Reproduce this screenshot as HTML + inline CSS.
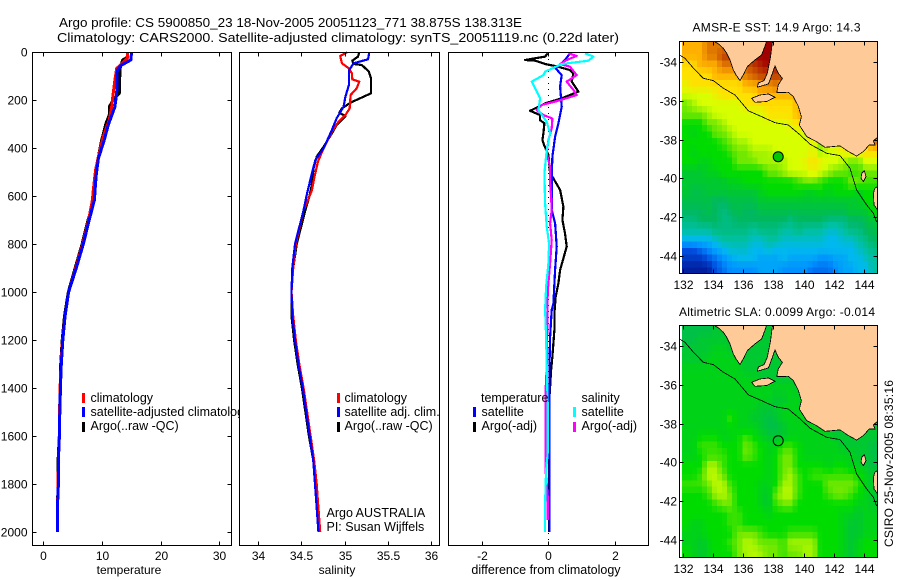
<!DOCTYPE html>
<html lang="en">
<head>
<meta charset="utf-8">
<title>Argo profile CS 5900850_23</title>
<style>
html,body{margin:0;padding:0;background:#fff;}
svg{display:block;}
text{font-family:"Liberation Sans",sans-serif;font-size:12px;fill:#000;}
text.big{font-size:13px;}
text.mid{font-size:12.5px;}
</style>
</head>
<body>
<svg id="figure" xmlns="http://www.w3.org/2000/svg" width="900" height="580" viewBox="0 0 900 580">
<defs>
<clipPath id="clip-sst"><rect x="680" y="42" width="197" height="231"/></clipPath>
<clipPath id="clip-sla"><rect x="680" y="326" width="197" height="231"/></clipPath>
</defs>
<rect x="0" y="0" width="900" height="580" fill="#fff"/>
<text class="big" x="59" y="27" textLength="463" lengthAdjust="spacingAndGlyphs">Argo profile: CS 5900850_23 18-Nov-2005 20051123_771 38.875S 138.313E</text>
<text class="big" x="57" y="42" textLength="562" lengthAdjust="spacingAndGlyphs">Climatology: CARS2000. Satellite-adjusted climatology: synTS_20051119.nc (0.22d later)</text>

<!-- temperature panel -->
<g id="panel-temp">
<rect x="32.5" y="52.5" width="199" height="493" fill="#fff" stroke="none"/>
<g id="temp-marks"></g>
<rect x="32.5" y="52.5" width="199" height="493" fill="none" stroke="#000" stroke-width="1" shape-rendering="crispEdges"/>
<g id="temp-ticks"></g>
<text x="129" y="574" text-anchor="middle">temperature</text>
<rect x="82" y="393" width="3" height="10" fill="#f00"/>
<rect x="82" y="407" width="3" height="10" fill="#00f"/>
<rect x="82" y="422" width="3" height="10" fill="#000"/>
<text class="mid" x="90.5" y="402">climatology</text>
<text class="mid" x="90.5" y="416">satellite-adjusted climatology</text>
<text class="mid" x="90.5" y="430">Argo(..raw -QC)</text>
</g>

<!-- salinity panel -->
<g id="panel-sal">
<rect x="239.5" y="52.5" width="200" height="493" fill="#fff" stroke="none"/>
<g id="sal-marks"></g>
<rect x="239.5" y="52.5" width="200" height="493" fill="none" stroke="#000" stroke-width="1" shape-rendering="crispEdges"/>
<g id="sal-ticks"></g>
<text x="337" y="574" text-anchor="middle">salinity</text>
<rect x="337" y="393" width="3" height="10" fill="#f00"/>
<rect x="337" y="407" width="3" height="10" fill="#00f"/>
<rect x="337" y="422" width="3" height="10" fill="#000"/>
<text class="mid" x="344.5" y="402">climatology</text>
<text class="mid" x="344.5" y="416">satellite adj. clim.</text>
<text class="mid" x="344.5" y="430">Argo(..raw -QC)</text>
<text class="mid" x="326.5" y="517">Argo AUSTRALIA</text>
<text class="mid" x="326.5" y="531">PI: Susan Wijffels</text>
</g>

<!-- difference panel -->
<g id="panel-diff">
<rect x="448.5" y="52.5" width="200" height="493" fill="#fff" stroke="none"/>
<g id="diff-marks"></g>
<rect x="448.5" y="52.5" width="200" height="493" fill="none" stroke="#000" stroke-width="1" shape-rendering="crispEdges"/>
<g id="diff-ticks"></g>
<text class="mid" x="546" y="574" text-anchor="middle">difference from climatology</text>
<text class="mid" x="481" y="402">temperature</text>
<text class="mid" x="581.5" y="402">salinity</text>
<rect x="473" y="407" width="3" height="10" fill="#00f"/>
<rect x="473" y="422" width="3" height="10" fill="#000"/>
<rect x="573" y="407" width="3" height="10" fill="#0ff"/>
<rect x="573" y="422" width="3" height="10" fill="#f0f"/>
<text class="mid" x="481.5" y="416">satellite</text>
<text class="mid" x="481.5" y="430">Argo(-adj)</text>
<text class="mid" x="581.5" y="416">satellite</text>
<text class="mid" x="581.5" y="430">Argo(-adj)</text>
</g>

<!-- SST map -->
<g id="map-sst">
<text x="692.5" y="31.5" textLength="168">AMSR-E SST: 14.9 Argo: 14.3</text>
</g>
<!-- SLA map -->
<g id="map-sla">
<text x="679" y="316" textLength="196">Altimetric SLA: 0.0099 Argo: -0.014</text>
</g>
<text transform="translate(893,547) rotate(-90)" textLength="167">CSIRO 25-Nov-2005 08:35:16</text>
</svg>

<script>
// ---------- temperature profiles ----------
const tempClimDepth = [0,25,67,115,171,227,282,352,435,491,574,616,700,800,900,1000,1100,1200,1300,1400,1500,1600,1700,1800,1900,2000];
const tempClim = [14.3,14.3,12.5,12.2,11.9,11.64,11.24,10.2,9.37,8.9,8.5,8.35,7.7,6.7,5.5,4.3,3.7,3.25,3.0,2.85,2.75,2.7,2.55,2.5,2.4,2.38];
const tempSatDepth = [0,32,53,74,171,227,254,303,373,442,519,616,700,800,900,1000,1100,1200,1300,1400,1500,1600,1700,1800,1900,2000];
const tempSat = [15.05,14.9,13.35,12.6,12.5,12.2,11.8,11.07,10.3,9.37,8.97,8.7,7.8,6.8,5.6,4.3,3.7,3.3,3.05,2.9,2.8,2.73,2.55,2.55,2.38,2.38];
const tempArgoDepth = [0,21,32,67,171,199,227,261,296,366,421,491,574,616,700,800,900,1000,1100,1200,1300,1400,1500,1600,1700,1800,1900,2000];
const tempArgo = [14.31,14.31,13.5,13.06,12.95,11.9,11.24,11.24,10.68,9.94,9.48,9.09,8.8,8.7,7.6,6.6,5.4,4.25,3.6,3.2,2.95,2.95,2.7,2.7,2.5,2.5,2.38,2.38];

// ---------- salinity profiles ----------
const salClimDepth = [0,15,46,67,88,113,122,150,178,234,262,290,331,408,456,519,575,616,658,800,900,1000,1100,1200,1300,1400,1500,1600,1700,1800,1900,2000];
const salClim = [35.03,34.95,34.97,35.05,35.085,35.09,35.17,35.14,35.07,35.06,35.01,34.93,34.855,34.75,34.695,34.655,34.625,34.58,34.53,34.44,34.41,34.39,34.41,34.44,34.48,34.53,34.57,34.61,34.65,34.68,34.7,34.72];
const salSatDepth = [0,29,46,76,136,185,227,275,324,401,449,505,588,658,800,900,1000,1100,1200,1300,1400,1500,1600,1700,1800,1900,2000];
const salSat = [35.285,35.27,35.105,35.05,35.05,35.01,34.99,34.91,34.855,34.76,34.665,34.625,34.57,34.53,34.43,34.4,34.39,34.4,34.43,34.47,34.52,34.56,34.6,34.64,34.66,34.68,34.7];
const salArgoDepth = [0,18,35,49,53,81,109,171,185,210,234,252,266,303,338,394,435,484,560,602,658,800,900,1000,1100,1200,1300,1400,1500,1600,1700,1800,1900,2000];
const salArgo = [35.17,35.155,35.09,35.105,35.2,35.28,35.305,35.305,35.22,35.07,34.97,34.94,35.01,34.91,34.855,34.76,34.68,34.645,34.62,34.595,34.55,34.45,34.41,34.39,34.39,34.42,34.46,34.51,34.55,34.59,34.64,34.67,34.69,34.7];

// ---------- differences from climatology ----------
const diffTempArgoDepth = [4,18,32,35,49,57,74,88,122,164,192,213,244,262,283,296,338,366,387,428,505,526,574,644,699,755,810,859,908,963,1019,1088,1158,1269,1325,1464,2000];
const diffTempArgo = [-0.02,-0.1,-0.7,-0.4,-0.1,0.2,0.65,0.75,0.7,0.9,0.4,-0.1,-0.55,-0.25,-0.25,-0.12,-0.15,-0.18,-0.13,0,0.05,0.15,0.35,0.45,0.42,0.5,0.55,0.45,0.35,0.3,0.22,0.18,0.18,0.12,0.08,0.02,0.02];
const diffTempSatDepth = [4,32,46,67,95,143,227,296,352,435,519,658,713,810,908,1047,1075,1186,1325,2000];
const diffTempSat = [0.65,0.5,0.4,0.22,0.4,0.35,0.4,0.3,0.2,0.12,0.1,0.1,0.2,0.25,0.2,0.15,0.1,0.05,0.03,0.03];
const diffSalArgoDepth = [4,15,32,49,60,95,122,157,178,202,220,241,262,276,317,366,421,477,547,602,658,713,783,880,963,1005,1320,1400,1750,1850,1950];
const diffSalArgo = [0.6,0.85,0.55,0.35,0.65,0.85,0.55,0.75,0.85,0.3,-0.2,-0.35,-0.15,0.12,0.1,0,-0.05,0.05,0.05,0.08,0.1,0.05,0.1,0.05,0,-0.02,-0.05,-0.08,-0.08,-0.02,-0.02];
const diffSalSatDepth = [4,18,35,49,81,95,122,192,241,290,338,408,505,630,727,797,880,977,1075,1186,1310,1464,1672,1742,1881,2000];
const diffSalSat = [1.1,1.35,1.2,0.4,-0.1,-0.15,-0.5,-0.25,-0.3,-0.05,0.05,-0.05,-0.12,-0.1,-0.05,0.02,0,-0.07,-0.1,-0.07,-0.05,-0.02,-0.02,-0.07,-0.1,-0.1];

// ---------- axis tick labels ----------
const depthTicks = [0,200,400,600,800,1000,1200,1400,1600,1800,2000];
const tempTicks = [0,10,20,30];
const salTicks = [34,34.5,35,35.5,36];
const salTickLabels = ["34","34.5","35","35.5","36"];
const diffTicks = [-2,0,2];
const lonTicks = [132,134,136,138,140,142,144];
const latTicks = [-34,-36,-38,-40,-42,-44];

// ---------- map fields: rows run north to south, columns west to east, in colour-scale levels ----------
const sstField = [
[11,11,11,12,12,12,12,12,13,14,14,14,14,14,13,11,11,11,11,11,11,11,11,11,11,11],
[11,11,11,12,12,13,13,12,13,14,14,14,14,14,13,11,11,11,11,11,11,11,11,11,11,11],
[10,10,11,11,11,12,12,12,12.5,13,13.5,14,13.5,13.5,13.5,12,11,11,11,11,11,11,11,11,11,11],
[10,10,10,10,11,11,11,11,12,12.5,13,13,13,13,13,11.5,11,11,11,11,11,11,11,11,11,11],
[9.5,10,10,10,10,10,10,10,11,11,11.5,11.5,12,11.5,11,11,11,11,11,11,11,11,11,11,11,11],
[9,9,9,9,9.5,10,10,10,10,10,11,11,11,11,11,11,11,11,11,11,11,11,11,11,11,11],
[8,8.5,9,9,9,9,9,9,10,10,10,10,10,10,10,11,11,12,11,11,11,11,11,11,11,11],
[8,8,8,8.5,9,9,9,9,9,9,9,10,10,10,10,11,11,11,11,11,11,11,11,11,11,11],
[7,7,7,8,8,8.5,9,9,9,9,9,9,9,9,9.5,10,10,10,10,11,11,11,11,11,11,11],
[7,6.5,7,7,8,8,8.5,9,9,9,9,9,9,9,9,9,9,10,10,10,11,11,11,11,12,12],
[7,7,7,7,7,7.5,8,8.5,8.5,9,9,9,9,9,9,9,9,9.5,8,9,9.5,10,10,10,10,12],
[7,6.5,7,7,7,7,7.5,8,8,8.5,8.5,8.5,9,9,9,9,9,9.5,8.5,9,9,9.5,9.5,9.5,10,10],
[7,7,6.5,6.5,7,7,7,8,8,8,8.5,8.5,8.5,8.5,9,9,9.5,10,9.5,9,9,8.5,8,8,9,9],
[6,6,6,6.5,6.5,7,7,7,7,7,7,8,8,8.5,9,9,9,9.5,9,8.5,8,8,7.5,7.5,8,8],
[6,6,6,6,6,6,6.5,6.5,7,7,7,7,7,7,7,7.5,8,8,7.5,7,7,7,8,8,7.5,7.5],
[6,5.5,5.5,6,6,6,6,6,6,6,6.5,7,7,7,7,7,6.5,6.5,7,6.5,7,7,7,6.5,7,7],
[5.5,5.5,5.5,5.5,5,5,5.5,5.5,5.5,5.5,6,6,6,6,6,6,6,6,6,6,6,6,6,6,7,7],
[5,5,5,5.5,5,4.5,5,5.5,5,5,5.5,5.5,5.5,5.5,5.5,5.5,5.5,5.5,5.5,5.5,5.5,5.5,6,6,6,7],
[4.5,4.5,5,5,5,4.5,4.5,5,5,5,5,5,5,5,4.5,5,5,5,5,4.5,4.5,4.5,5,5,5.5,6],
[4,4,4,4,4.5,4.5,4.5,4.5,4.5,4,4.5,4.5,4.5,4,4,4.5,4,4,4,3.5,3.5,4,4.5,4.5,5,5.5],
[3,3,3,3,3.5,4,4,4,4,3.5,3.5,4,4,3.5,3.5,3.5,3.5,3.5,3.5,3,3,3.5,3.5,4,4.5,5],
[1,1,1.5,2,2.5,3,3.5,3.5,3.5,3,3,3.5,3,3,3,3,3,3,3,3,3,3,3,3.5,4,4.5],
[0.5,0.5,0.5,1,1.5,2,2.5,3,3,3,2.5,2.5,2.5,3,2.5,2.5,2.5,2.5,2,2,2.5,2.5,3,3,3.5,4],
[0,0,0,0,1,1.5,2,2,2,2,2.5,2.5,2.5,2,2,2,2,1.5,1.5,1.5,2,2.5,2.5,3,3,4]
];
const slaField = [
[5.5,5.5,5.5,5.5,6,6,6,6,6,6,6,6,6,6,6,6,6,6,6,6,6,6,6,6,6,6],
[5.5,5.5,6,6,6,6,6,6,6,6,6,6,6,6,6,6,6,6,6,6,6,6,6,6,6,6],
[6,6,6,6,6.5,6.5,6,6,6,6,6,6,6,6,6,6,6,6,6,6,6,6,6,6,6,6],
[6,6,6,6.5,6.5,6.5,6.5,6.5,6,6,6,6,6,6,6,6,6,6,6,6,6,6,6,6,6,6],
[6.5,6.5,6.5,6.5,6.5,6.5,6.5,6.5,6,6,6,6,6,6,6,6,6,6,6,6,6,6,6,6,6,6],
[6.5,6.5,6.5,6.5,6.5,6.5,6.5,6.5,6.5,6.5,6,6,6,6,6,6,6,6,6,6,6,6,6,6,6,6],
[6.5,6.5,6.5,6.5,6.5,6.5,6.5,6.5,6.5,6.5,6.5,6.5,6.5,6.5,6.5,6,6,6,6,6,6,6,6,6,6,6],
[6.5,6.5,6.5,6.5,6.5,6.5,6.5,6.5,6.5,6.5,6.5,6.5,6,6,6.5,6.5,6,6,6,6,6,6,6,6,6,6],
[6.5,6.5,6.5,6.5,6.5,6.5,6.5,6.5,6.5,6.5,6,6,6,6.5,6.5,6.5,6.5,6,6,6,6,6,6,6,6,6],
[6.5,6.5,6.5,6.5,6.5,6.5,7.5,6.5,6.5,6,6,5.5,6,6.5,6.5,6.5,6.5,6.5,6,6,6,6,6,6,6,6],
[6.5,6.5,6.5,6.5,6.5,6.5,7,6.5,6.5,6.5,6,5.5,5.5,6,6.5,6.5,6.5,6.5,6.5,6,6,6,6,6,6,6],
[6.5,6.5,7,7,7,6.5,6.5,7,7.5,7,6.5,6,6,6,6.5,6.5,6.5,6.5,6.5,6.5,6,6,6,6,6,6],
[6.5,6.5,7.5,7.5,7.5,7,7,7,8,7.5,7,6.5,6.5,7.5,7.5,7,6.5,6.5,6.5,6.5,6.5,6,6,6,6,5.5],
[6.5,6.5,7,7.5,7.5,7.5,7,7,8,7.5,7,6.5,7,8,8,7,6.5,6.5,6.5,6.5,6.5,6.5,6.5,6,6,5.5],
[7,7,7,8.5,8.5,7.5,7,7,7,7,7,6.5,7,8,8,7,7,7,7,6.5,7,7,6.5,6.5,6,5.5],
[7,7,7.5,8.7,8.7,8,7,7,7,7,7,6.5,7,8,8.5,7.5,7,7.5,7.5,7.5,7.5,7.5,7.5,7,6.5,6],
[7.5,7.5,7.5,8,8.7,8.7,7.5,7,7,7,6.5,6.5,7,8.5,8.5,7.5,7,7,7,8,8,8,8,7.5,6.5,6],
[7,7,7,7.5,8.5,8.7,8,7,7,7,6.5,6,8,8.7,8.7,7.5,7,7,7,7.5,8,8,7.5,7,6.5,6],
[7,7,7,7,7.5,8,8,7,7,7,6.5,6,7.5,8,8,7,7,7,7,7,7,7,7,6.5,6.5,6],
[7,7,7,7,7,7,7.5,7.5,7,7,7,6.5,7,7,7,7,7,7,7,7,7,6.5,6.5,6,6.5,6.5],
[7,6.5,6.5,7,7,7,7.5,7.5,7,7,7,7,7,7,7,7,7,7,7,7,7,6.5,6,6,6.5,6.5],
[6.5,6.5,6.5,7,7,7,7,8,8,8,7.5,7,7,7,7.5,7.5,7.5,7.5,7,7,7,6.5,6,6,6.5,6.5],
[6.5,6.5,6,6.5,7,7,7.5,8,8.7,8.5,8,8,8,7.5,8.5,8.5,8.5,8.5,7,7,7,6.5,6,6.5,7,7],
[7,6.5,6,6.5,7,7,7,8,8.5,8.7,8.5,8,8,7.5,8,8,8.5,8.5,7,7,7,6.5,6,6.5,7,7]
];
const fieldPalette = ["#0020a0","#0050e0","#0090ff","#00b8f0","#00c0a0","#00b860","#00c830","#00dc00","#70e800","#d8ff00","#ffe000","#ffb000","#e07800","#c04000","#a00000"];

// ---------- geography as lon/lat ----------
const landWestLon = [134.08,134.34,134.67,134.9,135.12,135.34,135.51,135.78,136.0,136.27,136.77,137.22,137.5,137.55,134.08];
const landWestLat = [-32.93,-33.05,-33.28,-33.54,-33.88,-34.4,-34.65,-34.95,-34.65,-34.22,-33.88,-33.62,-33.02,-32.9,-32.9];
const landEastLon = [137.94,137.81,137.59,137.37,136.99,136.93,137.66,137.81,138.1,138.32,138.59,138.32,138.21,138.98,139.31,139.65,139.85,139.71,140.2,140.86,141.41,142.41,142.96,143.51,143.96,144.35,144.73,144.62,144.9,144.9,137.94];
const landEastLat = [-32.9,-33.71,-34.57,-34.95,-35.08,-35.29,-35.12,-34.83,-34.19,-34.57,-34.83,-35.17,-35.57,-35.55,-35.77,-36.29,-36.81,-37.24,-37.84,-38.1,-38.39,-38.32,-38.61,-38.84,-38.61,-38.27,-38.27,-38.06,-37.87,-32.9,-32.9];
const kangarooLon = [136.55,137.1,137.66,138.1,137.55,136.77];
const kangarooLat = [-35.86,-35.69,-35.64,-35.81,-36.03,-36.07];
const kingLon = [143.85,144.02,144.13,143.96,143.8];
const kingLat = [-39.73,-39.6,-39.9,-40.16,-39.99];
const tasmaniaLon = [144.73,144.9,144.9,144.66,144.62];
const tasmaniaLat = [-40.5,-40.42,-41.62,-41.37,-40.76];
const contourLon = [131.76,132.13,132.69,133.35,134.01,134.67,135.45,136,136.33,137.1,138.1,138.98,139.76,140.42,141.52,142.41,143.07,143.51,144.18,144.62,144.84];
const contourLat = [-33.62,-33.79,-34.31,-34.83,-34.95,-35.34,-35.69,-36.2,-36.51,-36.77,-37.12,-37.24,-37.75,-38.23,-38.7,-38.82,-39.47,-40.59,-41.37,-41.8,-42.26];
const profileLon = [138.313];
const profileLat = [-38.875];

// ---------- axis functions ----------
const NS = 'http://www.w3.org/2000/svg';
function linear(d0, d1, r0, r1) { return v => r0 + (v - d0) * (r1 - r0) / (d1 - d0); }
const yDepth = linear(0, 2055, 52.3, 545);
const xTemp = linear(-1.9, 32, 32.3, 231);
const xSal = linear(33.79, 36.09, 239.3, 439.3);
const xDiff = linear(-3, 3, 448.5, 648.3);
const xLon = linear(131.77, 144.88, 679.5, 877.3);
const ySstLat = linear(-32.92, -44.88, 41.3, 273);
const ySlaLat = linear(-32.92, -44.88, 325.3, 557);

function mk(parent, tag) {
  const el = document.createElementNS(NS, tag);
  parent.appendChild(el);
  return el;
}
function drawLine(parent, xs, ys, xScale, yScale, color, width, name) {
  const el = mk(parent, 'polyline');
  
  
  el.setAttribute('points', xs.map((v, i) => xScale(v).toFixed(1) + ',' + yScale(ys[i]).toFixed(1)).join(' '));
  el.setAttribute('fill', 'none');
  el.setAttribute('stroke', color);
  el.setAttribute('stroke-width', width);
  el.setAttribute('stroke-linejoin', 'round');
  el.setAttribute('shape-rendering', 'crispEdges');
  return el;
}
function tickSeg(parent, x1, y1, x2, y2) {
  const el = mk(parent, 'line');
  
  
  el.setAttribute('x1', x1); el.setAttribute('y1', y1);
  el.setAttribute('x2', x2); el.setAttribute('y2', y2);
  el.setAttribute('stroke', '#000');
  el.setAttribute('shape-rendering', 'crispEdges');
}
function label(parent, x, y, str, anchor) {
  const el = mk(parent, 'text');
  
  
  el.setAttribute('x', x); el.setAttribute('y', y);
  el.setAttribute('text-anchor', anchor);
  el.textContent = str;
}
function xTicks(parent, values, labels, scale, top, bottom, labelY) {
  values.forEach((v, i) => {
    const x = Math.round(scale(v)) + 0.5;
    tickSeg(parent, x, top, x, top + 4);
    tickSeg(parent, x, bottom, x, bottom - 4);
    label(parent, x, labelY, labels[i], 'middle');
  });
}
function yTicks(parent, values, labels, scale, left, right, labelX) {
  values.forEach((v, i) => {
    const y = Math.round(scale(v)) + 0.5;
    tickSeg(parent, left, y, left + 4, y);
    tickSeg(parent, right, y, right - 4, y);
    label(parent, labelX, y + 4, labels[i], 'end');
  });
}

// ---------- profile panels ----------
const tempMarks = document.getElementById('temp-marks');
drawLine(tempMarks, tempArgo, tempArgoDepth, xTemp, yDepth, '#000', 3, 'temperature-argo-line');
drawLine(tempMarks, tempClim, tempClimDepth, xTemp, yDepth, '#f00', 3, 'temperature-climatology-line');
drawLine(tempMarks, tempSat, tempSatDepth, xTemp, yDepth, '#00f', 3, 'temperature-satellite-line');
const tempAxis = document.getElementById('temp-ticks');
xTicks(tempAxis, tempTicks, tempTicks.map(String), xTemp, 52.5, 545.5, 560);
yTicks(tempAxis, depthTicks, depthTicks.map(String), yDepth, 32.5, 231.5, 27.5);

const salMarks = document.getElementById('sal-marks');
drawLine(salMarks, salArgo, salArgoDepth, xSal, yDepth, '#000', 2.2, 'salinity-argo-line');
drawLine(salMarks, salClim, salClimDepth, xSal, yDepth, '#f00', 2.2, 'salinity-climatology-line');
drawLine(salMarks, salSat, salSatDepth, xSal, yDepth, '#00f', 2.2, 'salinity-satellite-line');
xTicks(document.getElementById('sal-ticks'), salTicks, salTickLabels, xSal, 52.5, 545.5, 560);

const diffMarks = document.getElementById('diff-marks');
const zeroLine = mk(diffMarks, 'line');


zeroLine.setAttribute('x1', Math.round(xDiff(0)) + 0.5);
zeroLine.setAttribute('x2', Math.round(xDiff(0)) + 0.5);
zeroLine.setAttribute('y1', 53);
zeroLine.setAttribute('y2', 545);
zeroLine.setAttribute('stroke', '#000');
zeroLine.setAttribute('stroke-dasharray', '1 5');
zeroLine.setAttribute('shape-rendering', 'crispEdges');
drawLine(diffMarks, diffTempArgo, diffTempArgoDepth, xDiff, yDepth, '#000', 2.2, 'difference-temperature-argo-line');
drawLine(diffMarks, diffTempSat, diffTempSatDepth, xDiff, yDepth, '#00f', 2.2, 'difference-temperature-satellite-line');
drawLine(diffMarks, diffSalArgo, diffSalArgoDepth, xDiff, yDepth, '#f0f', 2.2, 'difference-salinity-argo-line');
drawLine(diffMarks, diffSalSat, diffSalSatDepth, xDiff, yDepth, '#0ff', 2.2, 'difference-salinity-satellite-line');
xTicks(document.getElementById('diff-ticks'), diffTicks, diffTicks.map(String), xDiff, 52.5, 545.5, 560);

// ---------- maps ----------
function levelColor(level) {
  const lo = Math.max(0, Math.min(fieldPalette.length - 1, Math.floor(level)));
  const hi = Math.min(fieldPalette.length - 1, lo + 1);
  const t = Math.max(0, Math.min(1, level - lo));
  const rgb = [1, 3, 5].map(p => {
    const a = parseInt(fieldPalette[lo].substr(p, 2), 16);
    const b = parseInt(fieldPalette[hi].substr(p, 2), 16);
    return Math.round(a + (b - a) * t);
  });
  return 'rgb(' + rgb.join(',') + ')';
}
// The field is read at half-degree spacing; each 1/3-degree display cell samples it bilinearly.
function sampleField(field, v, u) {
  const rows = field.length, cols = field[0].length;
  const r = Math.max(0, Math.min(rows - 1, v)), c = Math.max(0, Math.min(cols - 1, u));
  const r0 = Math.floor(r), c0 = Math.floor(c);
  const r1 = Math.min(rows - 1, r0 + 1), c1 = Math.min(cols - 1, c0 + 1);
  const fr = r - r0, fc = c - c0;
  return (field[r0][c0] * (1 - fc) + field[r0][c1] * fc) * (1 - fr) +
         (field[r1][c0] * (1 - fc) + field[r1][c1] * fc) * fr;
}
function drawLand(parent, lons, lats, yLat, name) {
  const el = mk(parent, 'polygon');
  
  
  el.setAttribute('points', lons.map((v, i) => xLon(v).toFixed(1) + ',' + yLat(lats[i]).toFixed(1)).join(' '));
  el.setAttribute('fill', '#fecb98');
  el.setAttribute('stroke', '#000');
  el.setAttribute('stroke-width', '0.8');
  el.setAttribute('shape-rendering', 'crispEdges');
}
function drawMap(parentId, field, yLat, clipId, top, bottom, prefix, markerFill) {
  const parent = document.getElementById(parentId);
  const bg = mk(parent, 'rect');
  
  
  bg.setAttribute('x', 679.5); bg.setAttribute('y', top);
  bg.setAttribute('width', 198); bg.setAttribute('height', bottom - top);
  bg.setAttribute('fill', '#fff');

  const g = mk(parent, 'g');
  
  
  g.setAttribute('clip-path', 'url(#' + clipId + ')');
  const lon0 = 131.93, lat0 = -32.92;
  const stepLon = 1 / 3, stepLat = 1 / 3;
  const nCols = 39, nRows = 36;
  for (let j = 0; j < nRows; j++) {
    for (let i = 0; i < nCols; i++) {
      const level = sampleField(field, (j + 0.5) * stepLat / 0.499 - 0.5, (i + 0.5) * stepLon / 0.4975 - 0.5);
      const cell = mk(g, 'rect');
      
      
      const x0 = xLon(lon0 + i * stepLon), x1 = xLon(lon0 + (i + 1) * stepLon);
      const y0 = yLat(lat0 - j * stepLat), y1 = yLat(lat0 - (j + 1) * stepLat);
      cell.setAttribute('x', x0.toFixed(1));
      cell.setAttribute('y', y0.toFixed(1));
      cell.setAttribute('width', (x1 - x0 + 0.5).toFixed(1));
      cell.setAttribute('height', (y1 - y0 + 0.5).toFixed(1));
      cell.setAttribute('fill', levelColor(level));
      cell.setAttribute('shape-rendering', 'crispEdges');
    }
  }
  drawLand(g, landWestLon, landWestLat, yLat, prefix + '-land-west');
  drawLand(g, landEastLon, landEastLat, yLat, prefix + '-land-east');
  drawLand(g, kangarooLon, kangarooLat, yLat, prefix + '-kangaroo-island');
  drawLand(g, kingLon, kingLat, yLat, prefix + '-king-island');
  drawLand(g, tasmaniaLon, tasmaniaLat, yLat, prefix + '-tasmania');
  drawLine(g, contourLon, contourLat, xLon, yLat, '#000', 0.8, prefix + '-isobath-line');

  const marker = mk(g, 'circle');
  
  
  marker.setAttribute('cx', xLon(profileLon[0]).toFixed(1));
  marker.setAttribute('cy', yLat(profileLat[0]).toFixed(1));
  marker.setAttribute('r', 5);
  marker.setAttribute('fill', markerFill);
  marker.setAttribute('stroke', '#000');

  const frame = mk(parent, 'rect');
  
  
  frame.setAttribute('x', 679.5); frame.setAttribute('y', top);
  frame.setAttribute('width', 198); frame.setAttribute('height', bottom - top);
  frame.setAttribute('fill', 'none');
  frame.setAttribute('stroke', '#000');
  frame.setAttribute('shape-rendering', 'crispEdges');

  const axes = mk(parent, 'g');
  
  
  xTicks(axes, lonTicks, lonTicks.map(String), xLon, top, bottom, bottom + 15.5);
  yTicks(axes, latTicks, latTicks.map(String), yLat, 679.5, 877.5, 677);
}
drawMap('map-sst', sstField, ySstLat, 'clip-sst', 41.5, 273.5, 'sst', '#00c800');
drawMap('map-sla', slaField, ySlaLat, 'clip-sla', 325.5, 557.5, 'sla', 'none');
</script>
</body>
</html>
